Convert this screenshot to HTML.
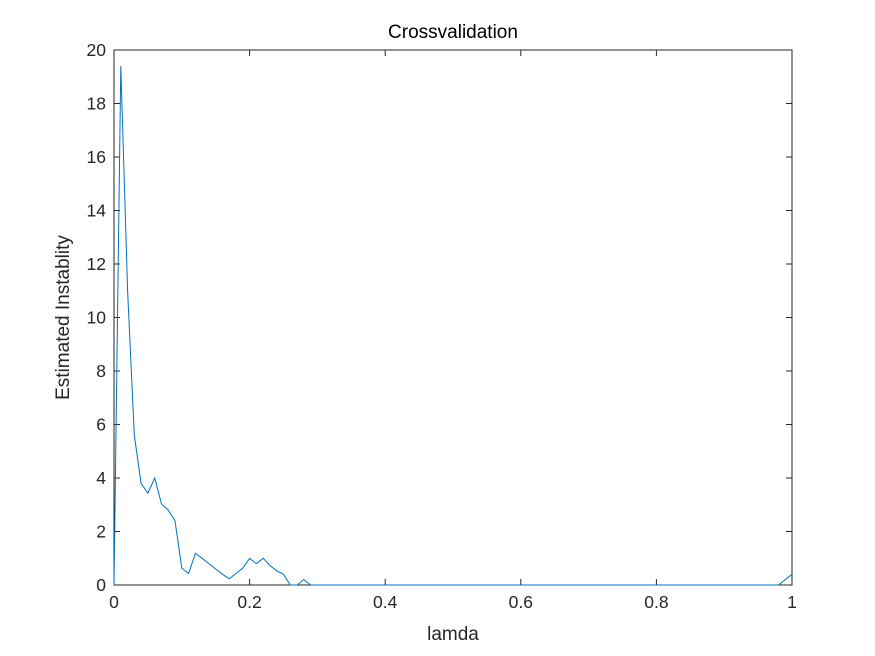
<!DOCTYPE html>
<html><head><meta charset="utf-8"><style>
body{margin:0;background:#fff;}
svg{display:block;font-family:"Liberation Sans",Arial,sans-serif;}
</style></head><body>
<svg id="chart" width="875" height="656" viewBox="0 0 875 656">
<rect width="875" height="656" fill="#fff"/>
<g id="plot"></g>
</svg>
<script>
const xValues=[0,0.01,0.02,0.03,0.04,0.05,0.06,0.07,0.08,0.09,0.10,0.11,0.12,0.13,0.14,0.15,0.16,0.17,0.18,0.19,0.20,0.21,0.22,0.23,0.24,0.25,0.26,0.27,0.28,0.29,0.98,0.99,1.0];
const yValues=[0,19.4,11.0,5.6,3.8,3.43,4.0,3.03,2.8,2.4,0.63,0.43,1.19,1.0,0.8,0.6,0.4,0.23,0.43,0.63,1.0,0.8,1.0,0.73,0.53,0.4,0,0,0.2,0,0,0.2,0.4];
const xTicks=[0,0.2,0.4,0.6,0.8,1];
const xTickLabels=["0","0.2","0.4","0.6","0.8","1"];
const yTicks=[0,2,4,6,8,10,12,14,16,18,20];
const yTickLabels=["0","2","4","6","8","10","12","14","16","18","20"];
const L=114,R=792,T=50,B=585;
const sx=v=>L+(R-L)*v/1;
const sy=v=>B-(B-T)*v/20;
const NS="http://www.w3.org/2000/svg";
const g=document.getElementById('plot');
function mk(tag,attrs,parent){const e=document.createElementNS(NS,tag);for(const k in attrs)e.setAttribute(k,attrs[k]);(parent||g).appendChild(e);return e;}
const box=mk('rect',{x:L,y:T,width:R-L,height:B-T,fill:'#fff',stroke:'#262626','stroke-width':1});


xTicks.forEach((t,i)=>{
  const x=sx(t);
  const a=mk('line',{x1:x,x2:x,y1:B,y2:B-6,stroke:'#262626'});
  
  
  const b=mk('line',{x1:x,x2:x,y1:T,y2:T+6,stroke:'#262626'});
  
  
  const tx=mk('text',{x:x,y:B+23,'text-anchor':'middle','font-size':17.5,fill:'#262626'});
  tx.textContent=xTickLabels[i];
  
  
});
yTicks.forEach((t,i)=>{
  const y=sy(t);
  const a=mk('line',{x1:L,x2:L+6,y1:y,y2:y,stroke:'#262626'});
  
  
  const b=mk('line',{x1:R,x2:R-6,y1:y,y2:y,stroke:'#262626'});
  
  
  const tx=mk('text',{x:L-8,y:y+6,'text-anchor':'end','font-size':17.5,fill:'#262626'});
  tx.textContent=yTickLabels[i];
  
  
});
const pts=xValues.map((x,i)=>sx(x).toFixed(1)+','+sy(yValues[i]).toFixed(1)).join(' ');
const line=mk('polyline',{points:pts,fill:'none',stroke:'#0072bd','stroke-width':1});


const title=mk('text',{x:(L+R)/2,y:38,'text-anchor':'middle','font-size':19,fill:'#000'});
title.textContent='Crossvalidation';


const xl=mk('text',{x:(L+R)/2,y:640,'text-anchor':'middle','font-size':19,fill:'#262626'});
xl.textContent='lamda';


const yl=mk('text',{x:0,y:0,'text-anchor':'middle','font-size':19,fill:'#262626',transform:'translate(69,'+((T+B)/2)+') rotate(-90)'});
yl.textContent='Estimated Instablity';


</script>
</body></html>
